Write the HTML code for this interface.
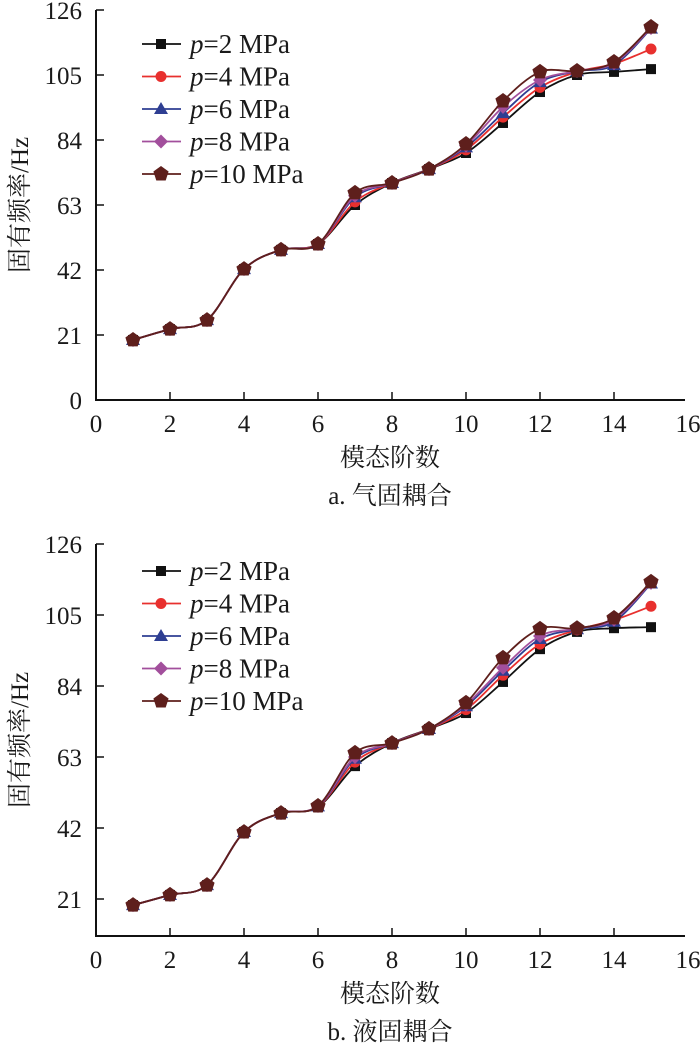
<!DOCTYPE html>
<html><head><meta charset="utf-8"><style>
html,body{margin:0;padding:0;background:#fff}
svg{display:block}
text{font-family:"Liberation Serif","Noto Serif CJK SC",serif;fill:#1a1a1a}
</style></head><body>
<svg id="svg" width="700" height="1046" viewBox="0 0 700 1046" xmlns="http://www.w3.org/2000/svg"></svg>
<script>
const modes=[1,2,3,4,5,6,7,8,9,10,11,12,13,14,15];
const seriesLabels=["2","4","6","8","10"];
const xTicks=[0,2,4,6,8,10,12,14,16];
const yTicks=[0,21,42,63,84,105,126];
// chart a (gas-solid)
const a_p2 =[19.4,22.9,25.8,42.3,48.5,50.4,63.0,70.1,74.6,79.8,89.5,99.5,105.0,106.0,106.9];
const a_p4 =[19.4,22.9,25.8,42.3,48.5,50.4,64.0,70.1,74.6,80.8,91.4,101.0,106.0,108.6,113.4];
const a_p6 =[19.4,22.9,25.8,42.3,48.5,50.4,65.5,70.1,74.6,81.6,92.7,102.7,106.2,108.2,120.0];
const a_p8 =[19.4,22.9,25.8,42.3,48.5,50.4,66.0,70.1,74.6,82.2,94.7,103.4,106.3,108.8,120.2];
const a_p10=[19.4,22.9,25.8,42.3,48.5,50.4,66.9,70.1,74.6,82.7,96.6,106.0,106.3,109.2,120.5];
// chart b (liquid-solid)
const b_p2 =[19.2,22.2,25.1,40.8,46.4,48.2,60.3,67.1,71.3,76.0,85.2,94.9,100.0,101.1,101.4];
const b_p4 =[19.2,22.2,25.1,40.8,46.4,48.3,61.5,67.1,71.3,77.0,87.2,96.4,100.6,103.5,107.6];
const b_p6 =[19.2,22.2,25.1,40.8,46.4,48.4,62.5,67.1,71.3,78.0,88.5,97.9,100.8,103.0,114.3];
const b_p8 =[19.2,22.2,25.1,40.8,46.4,48.5,63.0,67.1,71.3,78.5,89.4,98.8,101.0,103.6,114.5];
const b_p10=[19.2,22.2,25.1,40.8,46.4,48.5,64.2,67.1,71.3,79.0,92.3,100.9,101.1,104.1,114.8];

const colors=["#111111","#e8302e","#2e3e92","#a24f9c","#5e1f1c"];
const NS="http://www.w3.org/2000/svg";
const svg=document.getElementById('svg');
function mk(tag,attrs,parent){const e=document.createElementNS(NS,tag);for(const k in attrs)e.setAttribute(k,attrs[k]);(parent||svg).appendChild(e);return e;}

function marker(g,kind,cx,cy,col){
  let e;
  if(kind===0)e=mk('rect',{x:cx-5,y:cy-5,width:10,height:10,fill:col},g);
  else if(kind===1)e=mk('circle',{cx:cx,cy:cy,r:5.5,fill:col},g);
  else if(kind===2)e=mk('polygon',{points:`${cx},${cy-7} ${cx+7},${cy+5} ${cx-7},${cy+5}`,fill:col},g);
  else if(kind===3)e=mk('polygon',{points:`${cx},${cy-7} ${cx+7},${cy} ${cx},${cy+7} ${cx-7},${cy}`,fill:col},g);
  else{let p=[];for(let i=0;i<5;i++){const an=-Math.PI/2+i*2*Math.PI/5;p.push((cx+8*Math.cos(an)).toFixed(1)+','+(cy+8*Math.sin(an)).toFixed(1));}
    e=mk('polygon',{points:p.join(' '),fill:col},g);}
  return e;
}
function smooth(pts){
  let d=`M${pts[0][0]},${pts[0][1]}`;
  for(let i=0;i<pts.length-1;i++){
    const p0=pts[i-1]||pts[i],p1=pts[i],p2=pts[i+1],p3=pts[i+2]||p2;
    const c1=[p1[0]+(p2[0]-p0[0])/6,p1[1]+(p2[1]-p0[1])/6];
    const c2=[p2[0]-(p3[0]-p1[0])/6,p2[1]-(p3[1]-p1[1])/6];
    d+=`C${c1[0].toFixed(1)},${c1[1].toFixed(1)} ${c2[0].toFixed(1)},${c2[1].toFixed(1)} ${p2[0].toFixed(1)},${p2[1].toFixed(1)}`;
  }
  return d;
}

function chart(id,top,y126,y21,series,caption,showZero){
  const g=mk('g',{});
  
  
  const ppu=(y21-y126)/105;
  const Y=v=>y126+(126-v)*ppu;
  const X=v=>96+v*37;
  const axisY=showZero?Y(0):936;
  const ax=mk('path',{d:`M96,${y126}V${axisY}H685`,stroke:'#111',fill:'none','stroke-width':2},g);
  
  
  xTicks.forEach(t=>{
    if(t>0&&t<16)mk('line',{x1:X(t),x2:X(t),y1:axisY,y2:axisY-8,stroke:'#111','stroke-width':1.5},g);
    const tx=mk('text',{x:X(t),y:axisY+32,'text-anchor':'middle','font-size':25},g);tx.textContent=t;
    
    
  });
  yTicks.forEach(t=>{
    if(t===0&&!showZero)return;
    mk('line',{x1:96,x2:104,y1:Y(t),y2:Y(t),stroke:'#111','stroke-width':1.5},g);
    const tx=mk('text',{x:82,y:Y(t)+9,'text-anchor':'end','font-size':25},g);tx.textContent=t;
    
    
  });
  const yt=mk('text',{x:0,y:0,'text-anchor':'middle','font-size':25,transform:`translate(28,${(y126+axisY)/2}) rotate(-90)`},g);
  yt.textContent='固有频率/Hz';
  
  
  const xt=mk('text',{x:390,y:axisY+66,'text-anchor':'middle','font-size':25},g);
  xt.textContent='模态阶数';
  
  
  const cp=mk('text',{x:390,y:axisY+104,'text-anchor':'middle','font-size':25},g);
  cp.textContent=caption;
  
  
  series.forEach((vals,si)=>{
    const sg=mk('g',{},g);
    
    
    const pts=vals.map((v,i)=>[X(modes[i]),Y(v)]);
    const ln=mk('path',{d:smooth(pts),stroke:colors[si],fill:'none','stroke-width':1.8},sg);
    
    
    pts.forEach(p=>{const m=marker(sg,si,p[0],p[1],colors[si]);
      
      });
  });
  const lg=mk('g',{},g);
  
  
  seriesLabels.forEach((s,i)=>{
    const ey=top+34+i*32.5;
    const eg=mk('g',{},lg);
    
    
    mk('line',{x1:142,x2:181,y1:ey,y2:ey,stroke:colors[i],'stroke-width':1.8},eg);
    marker(eg,i,161,ey,colors[i]);
    const t=mk('text',{x:190,y:ey+9,'font-size':27},eg);
    const it=mk('tspan',{'font-style':'italic'},t);it.textContent='p';
    const r=mk('tspan',{},t);r.textContent='='+s+' MPa';
  });
}
function Y0(){return 10+105*(390/126);}
chart('chart-gas-solid',10,10,Y0(),[a_p2,a_p4,a_p6,a_p8,a_p10],'a. 气固耦合',true);
chart('chart-liquid-solid',537,544,899,[b_p2,b_p4,b_p6,b_p8,b_p10],'b. 液固耦合',false);
</script>
</body></html>
